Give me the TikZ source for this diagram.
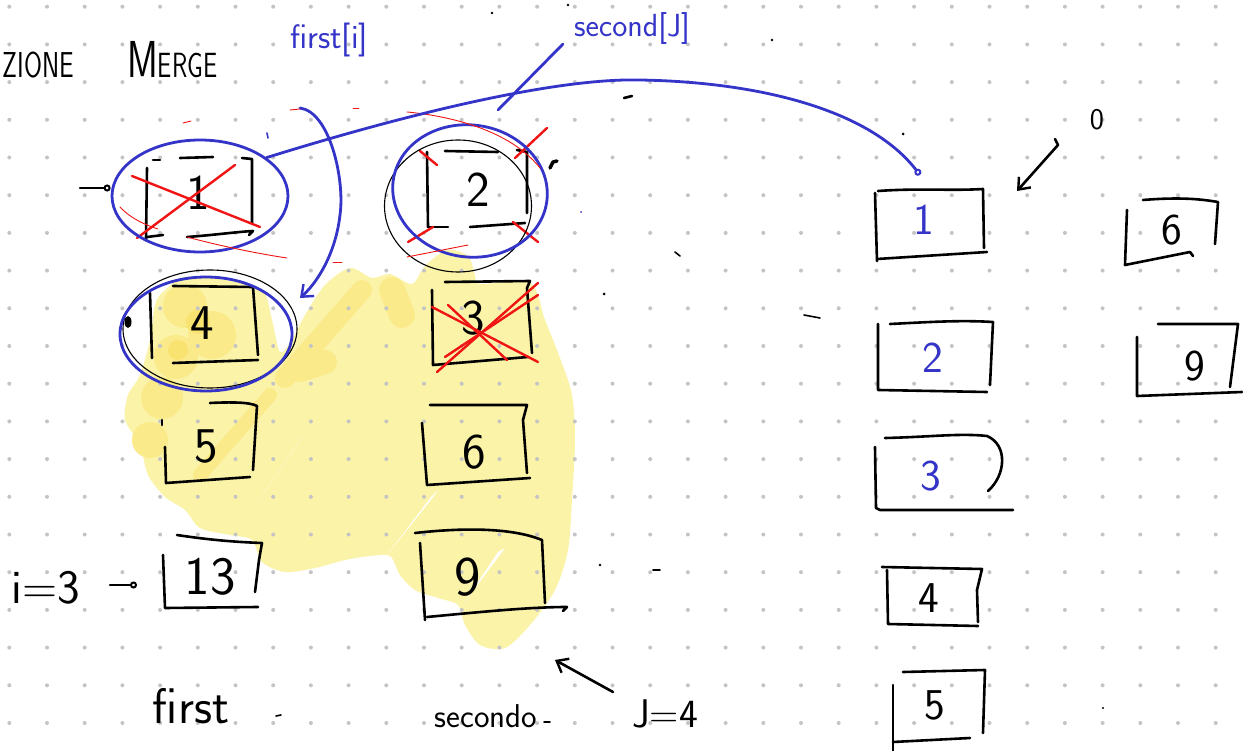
\documentclass[tikz,border=0pt]{standalone}
\usetikzlibrary{shapes.geometric,arrows.meta,calc}
\definecolor{penblue}{RGB}{52,52,200}
\definecolor{penred}{RGB}{240,20,20}
\definecolor{hly}{RGB}{251,243,168}
\definecolor{hlyd}{RGB}{248,226,112}
\definecolor{hlym}{RGB}{250,234,138}
\definecolor{dotc}{RGB}{196,196,196}
\begin{document}
\begin{tikzpicture}[x=1pt,y=-1pt,
  ink/.style={line width=2.6pt, black, line cap=round, line join=round},
  thinink/.style={line width=1.1pt, black},
  blueink/.style={line width=2.8pt, draw=penblue, line cap=round, line join=round},
  redink/.style={line width=2.4pt, draw=penred, line cap=round},
  thinred/.style={line width=0.9pt, draw=penred, line cap=round},
  hlband/.style={line width=20pt, draw=hlym, line cap=round},
  digit/.style={font=\sffamily\fontsize{50}{50}\selectfont, inner sep=0pt},
  rdigit/.style={font=\sffamily\fontsize{44}{44}\selectfont, inner sep=0pt},
  hand/.style={font=\sffamily, inner sep=0pt},
  oval/.style={ellipse, inner sep=0pt},
  loop/.style={-{Circle[open, length=7pt, width=7pt, line width=2pt]}},
  barb/.style={-{Straight Barb[length=10pt, width=16pt, line width=2.4pt]}}
]
\useasboundingbox (0,0) rectangle (1243,751);
\fill[white] (0,0) rectangle (1243,751);

% highlighter blob
\fill[hly] plot[smooth cycle, tension=0.5] coordinates {
 (163,292) (185,277) (225,280) (262,290) (272,320) (280,352) (292,340) (305,315)
 (325,285) (350,268) (372,278) (390,274) (412,284) (425,266) (447,250) (468,256)
 (475,275) (480,284) (530,283) (545,320) (560,358) (572,395) (575,440) (572,500)
 (568,550) (555,590) (530,625) (505,648) (480,645) (465,625) (458,605) (438,598)
 (415,590) (400,575) (390,556) (370,556) (345,560) (315,568) (285,572) (262,562)
 (252,540) (230,535) (200,528) (185,510) (165,497) (148,475) (140,445) (125,420)
 (128,395) (140,375) (150,340) (155,305)};
% darker overlaps
\fill[hlym] (185,306) circle (22pt);
\fill[hlym] (212,335) circle (24pt);
\fill[hlym] (176,357) circle (22pt);
\fill[hlym] (162,398) circle (21pt);
\fill[hlym] (150,440) circle (18pt);
\draw[hlband] (285,378) -- (362,290);
\draw[hlband, line width=26pt] (392,290) -- (402,315);
\draw[hlband, line width=24pt] (300,370) -- (325,362);
\draw[hlband, line width=14pt] (200,475) -- (270,395);
\fill[hlyd] (198,322) circle (12pt);
\fill[hlyd] (178,350) circle (10pt);
% white slivers between strokes
\fill[white] (303,436) -- (257,503) -- (296,446) -- cycle;
\fill[white] (438,491) -- (387,555) -- (431,497) -- cycle;
\fill[white] (505,548) -- (464,603) -- (498,552) -- cycle;

% dot grid
\foreach \i in {0,...,32}
  \foreach \j in {0,...,19}
    \fill[dotc] ({9.3+37.7*\i},{6.7+37.7*\j}) circle (2pt);

% titles
\node[hand, anchor=base east] (tz) at (74,78) {\scalebox{0.72}[1]{\fontsize{36}{36}\selectfont ZIONE}};
\node[hand, anchor=base west] (tm) at (127,78) {\scalebox{0.72}[1]{\fontsize{52}{52}\selectfont M\fontsize{35}{35}\selectfont ERGE}};
\node[hand, text=penblue, font=\sffamily\fontsize{34}{34}\selectfont] (fi) at (329,40) {first[i]};
\node[hand, text=penblue, font=\sffamily\fontsize{32}{32}\selectfont] (sj) at (632,29) {second[J]};

% ---- first column ----
\node[digit] (f1) at (198,193) {1};
\draw[ink] (147,168) -- (146,240);
\draw[ink] (153,160) -- (160,160);
\draw[ink] (180,158) -- (213,157);
\draw[ink] (242,158) -- (252,159) -- (252,223);
\draw[ink] (147,237) -- (163,235);
\draw[ink] (187,237) .. controls (215,235) and (235,232) .. (253,231) -- (249,235);
\draw[redink] (132,176) -- (260,227);
\draw[redink] (137,238) -- (235,165);
\node[oval, draw=penblue, line width=2.8pt, minimum width=176pt, minimum height=112pt] (c1) at (200,196) {};
\draw[thinred] (120,207) .. controls (130,218) and (145,225) .. (158,229);
\draw[thinred] (187,237) .. controls (220,246) and (260,254) .. (287,258);

\node[digit] (f4) at (202,323) {4};
\draw[ink] (150,293) -- (152,358);
\draw[ink] (173,286) -- (253,287) -- (258,355);
\draw[ink] (173,363) -- (258,360);
\node[oval, draw=black, line width=1.1pt, minimum width=174pt, minimum height=118pt] (k4) at (210,329) {};
\node[oval, draw=penblue, line width=2.8pt, minimum width=172pt, minimum height=114pt] (c4) at (206,334) {};
\fill[black] (128,322) ellipse (3.5pt and 6pt);

\node[digit] (f5) at (206,446) {5};
\draw[ink] (162,420) -- (162,425);
\draw[ink] (210,403) .. controls (230,402) and (250,402) .. (257,406) -- (253,470);
\draw[ink] (165,447) -- (166,483) -- (250,477);

\node[digit, font=\sffamily\fontsize{54}{54}\selectfont] (f13) at (210,577) {13};
\draw[ink] (177,535) .. controls (210,540) and (235,542) .. (262,543) -- (259,560) -- (255,592);
\draw[ink] (163,555) -- (165,608) -- (258,607);

% ---- second column ----
\node[digit] (s2) at (478,190) {2};
\draw[ink] (427,152) -- (428,227);
\draw[ink] (445,151) -- (498,152);
\draw[ink] (517,150) -- (527,152) -- (527,213);
\draw[ink] (428,227) -- (448,227);
\draw[ink] (470,227) -- (525,223);
\draw[redink] (420,151) -- (437,165);
\draw[redink] (515,158) -- (547,128);
\draw[redink] (408,242) -- (433,227);
\draw[redink] (513,222) -- (538,242);
\node[oval, draw=black, line width=1.1pt, minimum width=147pt, minimum height=132pt] (k2) at (458,206) {};
\node[oval, draw=penblue, line width=2.8pt, minimum width=155pt, minimum height=132pt, rotate=-8] (c2) at (470,191) {};
\draw[thinred] (407,112) .. controls (450,116) and (510,130) .. (540,168);
\draw[thinred] (407,257) -- (468,245);

\node[digit] (s3) at (473,318) {3};
\draw[ink] (432,290) -- (433,365) -- (528,357);
\draw[ink] (445,282) -- (530,281) -- (527,288) -- (532,353);
\draw[redink] (432,307) -- (538,362);
\draw[redink] (448,305) -- (507,360);
\draw[redink] (437,372) -- (538,283);
\draw[redink] (445,357) -- (538,295);

\node[digit] (s6) at (474,452) {6};
\draw[ink] (430,405) -- (527,405) -- (523,420) -- (527,473);
\draw[ink] (422,423) -- (427,485) -- (530,478);

\node[digit, font=\sffamily\fontsize{56}{56}\selectfont] (s9) at (468,577) {9};
\draw[ink] (415,533) .. controls (460,528) and (510,527) .. (542,540) -- (545,603);
\draw[ink] (420,543) -- (425,620);
\draw[ink] (427,617) .. controls (480,612) and (530,607) .. (567,607) -- (563,611);

% ---- output column ----
\node[rdigit, text=penblue] (m1) at (924,220) {1};
\draw[ink] (878,191) .. controls (920,188) and (950,191) .. (983,189) -- (984,248);
\draw[ink] (875,193) -- (877,261);
\draw[ink] (877,259) -- (987,252);

\node[rdigit, text=penblue] (m2) at (933,358) {2};
\draw[ink] (878,324) -- (878,390) -- (987,392);
\draw[ink] (890,324) .. controls (930,322) and (960,320) .. (993,322) -- (990,385);

\node[rdigit, text=penblue] (m3) at (931,476) {3};
\draw[ink] (885,438) .. controls (930,437) and (960,433) .. (987,436) .. controls (1008,445) and (1006,475) .. (988,491);
\draw[ink] (875,447) -- (876,508) -- (880,510) -- (1013,510);

\node[rdigit] (m4) at (929,598) {4};
\draw[ink] (882,567) -- (982,569) -- (977,590) -- (978,622);
\draw[ink] (887,570) -- (888,624) -- (978,626);

\node[rdigit] (m5) at (935,705) {5};
\draw[ink] (903,672) -- (985,670) -- (983,733);
\draw[ink] (893,685) -- (893,760);
\draw[ink] (893,742) -- (970,738);

\node[rdigit] (m6) at (1172,230) {6};
\draw[ink] (1143,200) .. controls (1180,197) and (1200,199) .. (1218,202) -- (1215,244);
\draw[ink] (1127,210) -- (1125,265) -- (1190,252) -- (1193,256);

\node[rdigit] (m9) at (1195,366) {9};
\draw[ink] (1158,324) -- (1238,324) -- (1230,387);
\draw[ink] (1137,337) -- (1137,396) -- (1242,392);

% ---- bottom labels ----
\node[hand, font=\sffamily\fontsize{50}{50}\selectfont, anchor=base] (lf) at (191,723) {first};
\node[hand, font=\sffamily\fontsize{33}{33}\selectfont, anchor=base] (ls) at (486,727) {secondo};
\node[hand, font=\sffamily\fontsize{48}{48}\selectfont, anchor=base] (li) at (46,603) {i=3};
\node[hand, font=\sffamily\fontsize{40}{40}\selectfont, anchor=base] (lj) at (665,727) {J=4};
\node[hand, font=\sffamily\fontsize{30}{30}\selectfont] (z0) at (1097,120) {0};

% ---- connectors ----
\coordinate (ptr1) at (80,188);
\draw[ink, loop] (ptr1) -- (c1.west |- ptr1);

\draw[blueink, loop] (c1.30) .. controls (420,110) and (560,78) .. (640,80)
   .. controls (760,82) and (870,110) .. ($(m1.north)+(-4,-30)$);

\coordinate (sjs) at (563,44);
\coordinate (sje) at (498,110);
\draw[blueink] (sjs) -- (sje);

\coordinate (fis) at (300,108);
\coordinate (fie) at (300,298);
\draw[blueink, barb] (fis) .. controls (330,112) and (345,180) .. (340,215)
   .. controls (336,250) and (320,280) .. (fie);

\coordinate (zs) at (1058,145);
\coordinate (ze) at (1017,191);
\draw[ink, barb] ($(zs)+(-3,-6)$) -- (zs) -- (ze);

\coordinate (is) at (110,585);
\coordinate (ie) at (137,585);
\draw[ink, loop] (is) -- (ie);

\coordinate (js) at (613,692);
\coordinate (je) at (555,660);
\draw[ink, barb] (js) -- (je);

% ---- stray marks ----
\draw[thinred] (183,123) -- (191,121);
\draw[thinred] (290,110) -- (300,109);
\draw[thinred] (353,108) -- (359,108);
\draw[thinred] (333,262) -- (342,262);
\draw[blueink, line width=1.6pt] (267,133) -- (268,138);
\fill[penblue] (581,212) circle (1pt);
\draw[ink] (624,98) -- (632,96);
\draw[ink, line width=3.5pt] (550,168) -- (553,162) -- (557,161);
\draw[ink, line width=1.6pt] (675,252) -- (680,256);
\fill (604,294) circle (1.5pt);
\draw[ink, line width=1.6pt] (804,315) -- (820,318);
\fill (903,134) circle (1.5pt);
\fill (1103,708) circle (1.2pt);
\fill (492,13) circle (1.3pt);
\fill (568,5) circle (1.3pt);
\fill (772,40) circle (1.3pt);
\draw[ink, line width=1.6pt] (276,716) -- (281,715);
\draw[ink, line width=1.6pt] (544,722) -- (550,722);
\fill (600,565) circle (1.3pt);
\draw[ink, line width=1.8pt] (653,570) -- (660,570);
\end{tikzpicture}
\end{document}
